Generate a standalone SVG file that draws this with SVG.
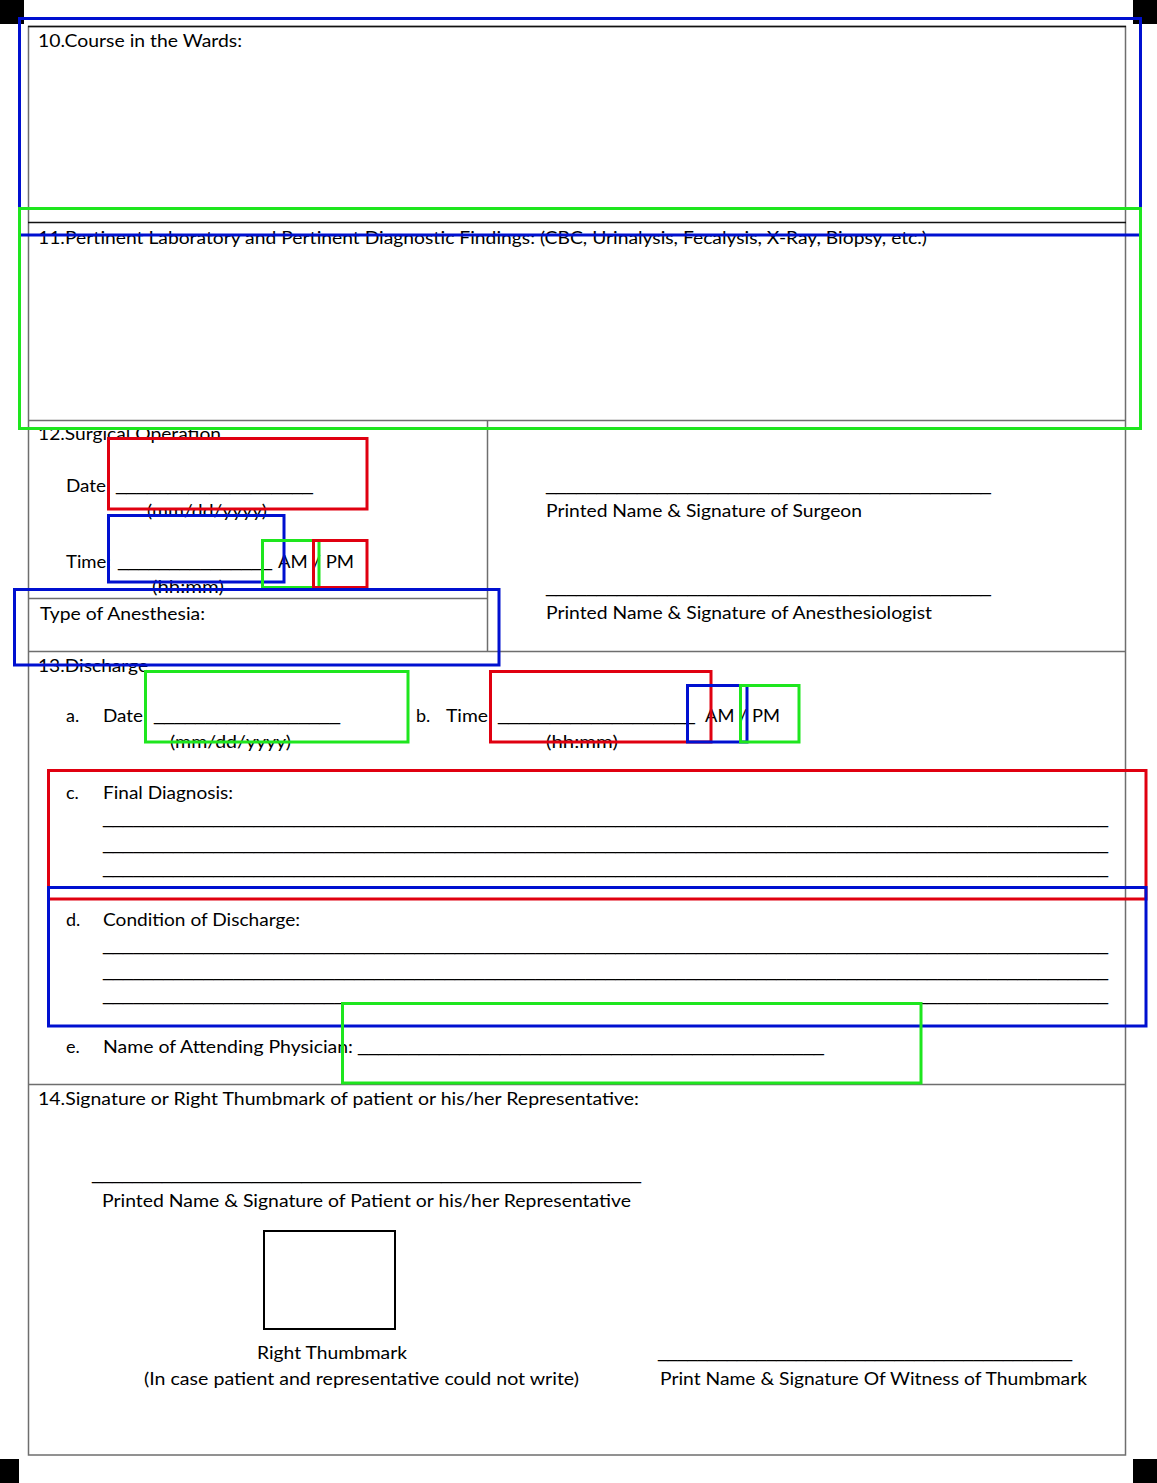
<svg xmlns="http://www.w3.org/2000/svg" width="1157" height="1483" viewBox="0 0 1157 1483">
<style>
text{font-family:Lato,"Liberation Sans",sans-serif;font-size:18px;fill:#000}
text.u{font-family:"Liberation Sans",sans-serif}
.fr{stroke:#6e6e6e;stroke-width:1.5;fill:none}
.fk{stroke:#111;stroke-width:1.3;fill:none}
.b{fill:none;stroke:#0010d0;stroke-width:3}
.g{fill:none;stroke:#1ee61e;stroke-width:3}
.r{fill:none;stroke:#e00010;stroke-width:3}
</style>
<rect width="1157" height="1483" fill="#fff"/>
<g id="corners" fill="#000">
<rect x="0" y="0" width="24" height="24"/>
<rect x="1133" y="0" width="24" height="24"/>
<rect x="0" y="1459" width="19" height="24"/>
<rect x="1133" y="1459" width="24" height="24"/>
</g>
<g id="frame">
<rect class="fr" x="28.5" y="26.5" width="1097" height="1428.5"/>
<line class="fk" x1="28" y1="26.5" x2="1126" y2="26.5"/>
<line class="fk" x1="28" y1="222.5" x2="1126" y2="222.5"/>
<line class="fr" x1="28" y1="420.5" x2="1126" y2="420.5"/>
<line class="fr" x1="487.5" y1="420" x2="487.5" y2="651"/>
<line class="fr" x1="28" y1="598.5" x2="487" y2="598.5"/>
<line class="fr" x1="28" y1="651.5" x2="1126" y2="651.5"/>
<line class="fr" x1="28" y1="1084.5" x2="1126" y2="1084.5"/>
</g>
<g id="s10"><text x="38" y="47" textLength="204" lengthAdjust="spacingAndGlyphs">10.Course in the Wards:</text></g>
<g id="s11"><text x="38" y="244" textLength="889" lengthAdjust="spacingAndGlyphs">11.Pertinent Laboratory and Pertinent Diagnostic Findings: (CBC, Urinalysis, Fecalysis, X-Ray, Biopsy, etc.)</text></g>
<g id="s12">
<text x="38" y="440" textLength="183" lengthAdjust="spacingAndGlyphs">12.Surgical Operation</text>
<text x="66" y="492" textLength="40" lengthAdjust="spacingAndGlyphs">Date</text>
<text class="u" x="116" y="490" textLength="197" lengthAdjust="spacingAndGlyphs">___________________</text>
<text x="147" y="517" textLength="120" lengthAdjust="spacingAndGlyphs">(mm/dd/yyyy)</text>
<text x="66" y="568" textLength="45" lengthAdjust="spacingAndGlyphs">Time:</text>
<text class="u" x="118" y="566" textLength="154" lengthAdjust="spacingAndGlyphs">_______________</text>
<text x="278" y="568" textLength="76" lengthAdjust="spacingAndGlyphs">AM / PM</text>
<text x="152" y="593" textLength="72" lengthAdjust="spacingAndGlyphs">(hh:mm)</text>
</g>
<g id="anesthesia"><text x="40" y="620" textLength="165" lengthAdjust="spacingAndGlyphs">Type of Anesthesia:</text></g>
<g id="surgeon">
<text class="u" x="546" y="490" textLength="445" lengthAdjust="spacingAndGlyphs">____________________________________________</text>
<text x="546" y="517" textLength="316" lengthAdjust="spacingAndGlyphs">Printed Name &amp; Signature of Surgeon</text>
</g>
<g id="anesthesiologist">
<text class="u" x="546" y="592" textLength="445" lengthAdjust="spacingAndGlyphs">____________________________________________</text>
<text x="546" y="619" textLength="386" lengthAdjust="spacingAndGlyphs">Printed Name &amp; Signature of Anesthesiologist</text>
</g>
<g id="s13">
<text x="38" y="672" textLength="110" lengthAdjust="spacingAndGlyphs">13.Discharge</text>
<text x="66" y="722">a.</text>
<text x="103" y="722" textLength="40" lengthAdjust="spacingAndGlyphs">Date</text>
<text class="u" x="154" y="720" textLength="186" lengthAdjust="spacingAndGlyphs">__________________</text>
<text x="170" y="748" textLength="121" lengthAdjust="spacingAndGlyphs">(mm/dd/yyyy)</text>
<text x="416" y="722">b.</text>
<text x="446" y="722" textLength="42" lengthAdjust="spacingAndGlyphs">Time</text>
<text class="u" x="498" y="720" textLength="197" lengthAdjust="spacingAndGlyphs">___________________</text>
<text x="705" y="722" textLength="75" lengthAdjust="spacingAndGlyphs">AM / PM</text>
<text x="546" y="748" textLength="72" lengthAdjust="spacingAndGlyphs">(hh:mm)</text>
</g>
<g id="diagnosis">
<text x="66" y="799">c.</text>
<text x="103" y="799" textLength="130" lengthAdjust="spacingAndGlyphs">Final Diagnosis:</text>
<text class="u" x="103" y="823" textLength="1005" lengthAdjust="spacingAndGlyphs">____________________________________________________________________________________________________</text>
<text class="u" x="103" y="849" textLength="1005" lengthAdjust="spacingAndGlyphs">____________________________________________________________________________________________________</text>
<text class="u" x="103" y="873" textLength="1005" lengthAdjust="spacingAndGlyphs">____________________________________________________________________________________________________</text>
</g>
<g id="condition">
<text x="66" y="926">d.</text>
<text x="103" y="926" textLength="197" lengthAdjust="spacingAndGlyphs">Condition of Discharge:</text>
<text class="u" x="103" y="950" textLength="1005" lengthAdjust="spacingAndGlyphs">____________________________________________________________________________________________________</text>
<text class="u" x="103" y="976" textLength="1005" lengthAdjust="spacingAndGlyphs">____________________________________________________________________________________________________</text>
<text class="u" x="103" y="1000" textLength="1005" lengthAdjust="spacingAndGlyphs">____________________________________________________________________________________________________</text>
</g>
<g id="physician">
<text x="66" y="1053">e.</text>
<text x="103" y="1053" textLength="250" lengthAdjust="spacingAndGlyphs">Name of Attending Physician:</text>
<text class="u" x="358" y="1051" textLength="466" lengthAdjust="spacingAndGlyphs">______________________________________________</text>
</g>
<g id="s14">
<text x="38" y="1105" textLength="601" lengthAdjust="spacingAndGlyphs">14.Signature or Right Thumbmark of patient or his/her Representative:</text>
<text class="u" x="92" y="1179" textLength="549" lengthAdjust="spacingAndGlyphs">_______________________________________________________</text>
<text x="102" y="1207" textLength="529" lengthAdjust="spacingAndGlyphs">Printed Name &amp; Signature of Patient or his/her Representative</text>
</g>
<g id="thumbmark">
<rect x="264" y="1231" width="131" height="98" fill="none" stroke="#000" stroke-width="2"/>
<text x="257" y="1359" textLength="150" lengthAdjust="spacingAndGlyphs">Right Thumbmark</text>
<text x="144" y="1385" textLength="435" lengthAdjust="spacingAndGlyphs">(In case patient and representative could not write)</text>
</g>
<g id="witness">
<text class="u" x="658" y="1357" textLength="414" lengthAdjust="spacingAndGlyphs">__________________________________________</text>
<text x="660" y="1385" textLength="427" lengthAdjust="spacingAndGlyphs">Print Name &amp; Signature Of Witness of Thumbmark</text>
</g>
<g id="annotations">
<rect class="b" x="19.5" y="18.5" width="1121" height="216.5"/>
<rect class="g" x="19.5" y="208.5" width="1121" height="220"/>
<rect class="r" x="108.5" y="438.5" width="258.5" height="70.5"/>
<rect class="b" x="108.5" y="515.5" width="175.5" height="66.5"/>
<rect class="g" x="262.5" y="540.5" width="56.5" height="47"/>
<rect class="r" x="313.5" y="540.5" width="53.5" height="47"/>
<rect class="b" x="14.5" y="589.5" width="484.5" height="75.5"/>
<rect class="g" x="145.5" y="671.5" width="262.5" height="70.5"/>
<rect class="r" x="490.5" y="671.5" width="220.5" height="70.5"/>
<rect class="b" x="687.5" y="685.5" width="59.5" height="56.5"/>
<rect class="g" x="740.5" y="685.5" width="58.5" height="56.5"/>
<rect class="r" x="48.5" y="770.5" width="1097.5" height="128.5"/>
<rect class="b" x="48.5" y="887.5" width="1097.5" height="138.5"/>
<rect class="g" x="342.5" y="1003.5" width="578.5" height="79.5"/>
</g>
</svg>
